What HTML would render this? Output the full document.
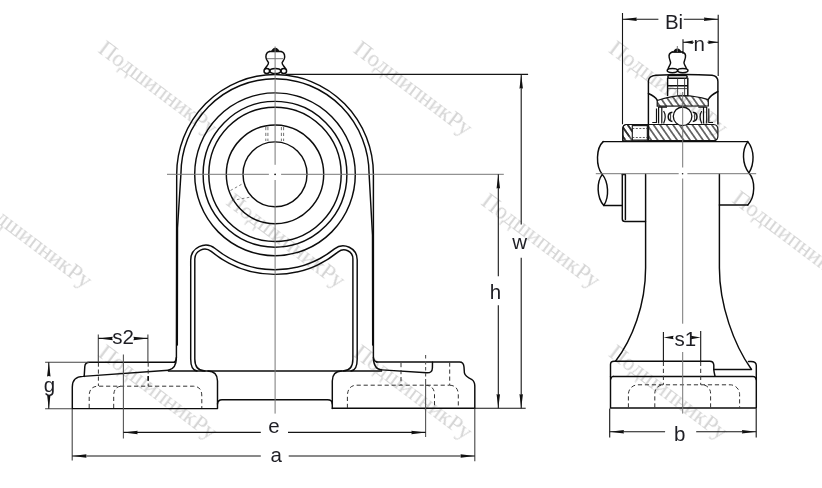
<!DOCTYPE html>
<html><head><meta charset="utf-8"><style>html,body{margin:0;padding:0;background:#fff;}svg{display:block;}</style></head>
<body><svg width="822" height="488" viewBox="0 0 822 488"><defs><pattern id="hat" patternUnits="userSpaceOnUse" width="5.3" height="5.3" patternTransform="rotate(-35)"><line x1="2.65" y1="0" x2="2.65" y2="5.3" stroke="#111" stroke-width="1.15"/></pattern></defs><rect width="822" height="488" fill="#fff"/>
<g font-family="Liberation Serif" font-size="23" fill="#b9b9b9" opacity="0.6"><text transform="translate(97.0,51.5) rotate(37)">ПодшипникРу</text><text transform="translate(352.2,51.6) rotate(37)">ПодшипникРу</text><text transform="translate(607.5,51.5) rotate(37)">ПодшипникРу</text><text transform="translate(-28.0,204.0) rotate(37)">ПодшипникРу</text><text transform="translate(225.0,204.0) rotate(37)">ПодшипникРу</text><text transform="translate(480.0,204.0) rotate(37)">ПодшипникРу</text><text transform="translate(731.0,201.5) rotate(37)">ПодшипникРу</text><text transform="translate(97.0,355.5) rotate(37)">ПодшипникРу</text><text transform="translate(352.2,355.5) rotate(37)">ПодшипникРу</text><text transform="translate(607.5,355.5) rotate(37)">ПодшипникРу</text></g>
<g fill="none" stroke="#0c0c0c" stroke-width="1.45" stroke-linecap="round" stroke-linejoin="round">
<ellipse cx="275" cy="174.3" rx="32.0" ry="32.45"/>
<ellipse cx="275" cy="174.3" rx="48.7" ry="49.38"/>
<ellipse cx="275" cy="174.3" rx="66.2" ry="67.13"/>
<ellipse cx="275" cy="174.3" rx="71.9" ry="72.91"/>
<ellipse cx="275" cy="174.3" rx="80.3" ry="81.42"/>
<path d="M168.4,370.2 C173.5,369.3 176.4,366 176.4,357 L176.7,174.3 A98.3,99.7 0 0 1 373.4,174.3 L373.4,357 C373.4,366 376.5,369.5 381.6,369.9"/>
<path d="M174.3,362.2 C175.6,361.6 176.3,360.3 176.4,357.5"/>
<path d="M376.9,362.0 C375.2,361.5 373.5,360.3 373.4,357.5"/>
<path d="M177.3,345 L177.5,228 L180.9,174.3 A94.1,95.5 0 0 1 369.1,174.3 L372.5,235 L372.7,345"/>
<path d="M197,371 C193,370.6 190.7,366 190.7,359 L190.7,260.24 A15,15 0 0 1 215.12,248.56 A95.4,95.4 0 0 0 334.47,248.89 A14,14 0 0 1 357.2,259.84 L357.2,359 C357.2,366 355,370.6 351,371"/>
<path d="M205,371 C198,370.8 194.8,366 194.8,359 L194.8,259.12 A10,10 0 0 1 211.18,251.41 A100.1,100.1 0 0 0 338.22,251.91 A9,9 0 0 1 352.9,258.89 L352.9,359 C352.9,366 350,370.8 343,371"/>
<path d="M168.4,371 L381.6,371"/>
<path d="M72.3,408.6 L72.3,387 C72.3,380 76,376.6 83,376.4 L168.4,370.2"/>
<path d="M84.2,376.4 L84.8,366.5 C85,363.5 86.5,362.2 89.5,362.2 L174.4,362.2"/>
<path d="M72.3,408.6 L217.5,408.6 L217.5,381 C217.5,375 214,371.2 208,371"/>
<path d="M217.5,404 C217.7,401 219,399.8 222,399.8 L327.5,399.8 C330.5,399.8 332.3,401 332.3,404"/>
<path d="M332.3,408.4 L332.3,381 C332.3,375 335.5,371.2 341.5,371"/>
<path d="M332.3,408.2 L474.8,408.2 L474.8,386 C474.8,382.5 474,381 471.8,379.5 C468,377.5 465,376 464.4,372.8 L464,367 C463.8,364 462.5,362 459.5,362 L376.7,362"/>
<path d="M381.6,369.9 L426.7,372.8 C430.5,373 432.3,371.5 432.4,368 L432.5,362.2"/>
</g>
<path d="M265.8,127 V141 M267.9,127 V141 M281.4,127 V141 M283.6,127 V141" fill="none" stroke="#444" stroke-width="0.75" stroke-dasharray="3.2 2.6"/>
<path d="M230.5,190.5 L243,183.5 M232,200.5 L251,197" fill="none" stroke="#555" stroke-width="0.75" stroke-dasharray="2.6 2.4"/>
<g fill="none" stroke="#333" stroke-width="1.0" stroke-dasharray="4.2 2.8">
<path d="M89.2,408 V396 Q89.2,386.2 98.4,386.2 H193 Q201.8,386.2 201.8,396 V408"/>
<path d="M113.7,408 V396 Q113.7,386.2 122,386.2"/>
<path d="M98.4,362.5 V386"/><path d="M148.2,362.5 V386"/>
<path d="M347.4,408 V396 Q347.6,385.2 357,385.2 H449.7"/>
<path d="M425.6,385.2 Q434.5,385.6 434.5,395 V408"/><path d="M449.7,385.2 Q458.3,385.6 458.3,395 V408"/>
<path d="M401,363 V385"/><path d="M449.7,362.5 V385"/>
</g>
<g fill="none" stroke="#0c0c0c" stroke-width="1.45" stroke-linecap="round" stroke-linejoin="round" stroke-width="1.25">
<path d="M269.6,51.5 C267,52 265.9,54.5 265.9,57 C265.9,59.5 267.5,61 268.5,62.6 C268.9,64.5 266,66.5 265,68.8"/>
<path d="M281,51.5 C283.6,52 284.7,54.5 284.7,57 C284.7,59.5 283.1,61 282.1,62.6 C281.7,64.5 284.6,66.5 285.6,68.8"/>
<path d="M269.6,51.5 H281"/>
<ellipse cx="266.8" cy="71" rx="2.8" ry="2.5"/><ellipse cx="275.3" cy="71" rx="5.4" ry="2.5"/><ellipse cx="283.8" cy="71" rx="2.8" ry="2.5"/>
</g>
<path d="M270.8,51.9 C271.5,49.8 273.4,47.8 275.3,47.8 C277.2,47.8 279.1,49.8 279.8,51.9 Z" fill="#111"/>
<g fill="none" stroke="#777" stroke-width="1">
<path d="M275.1,46.5 V164.8 M275.1,180 V413.6"/>
<path d="M167,174.3 H268.9 M281.1,174.3 H503.8"/>
<path d="M267,58.7 H283"/>
</g>
<circle cx="275.1" cy="174.3" r="0.9" fill="#111"/>
<g fill="none" stroke="#151515" stroke-width="1.1">
<path d="M45.1,362.2 H89 M45.1,408.8 H72" stroke="#444"/>
<path d="M48.8,362.2 V375 M48.8,397 V408.8"/>
<path d="M98.3,334.6 V362 M147.9,334.4 V362" stroke="#444"/>
<path d="M148.2,376 V380.8" stroke-width="1.6"/>
<path d="M98.3,338.4 H111.5 M134.5,338.4 H147.9"/>
<path d="M123.4,354.6 V438.4 M425.6,380 V437" stroke="#555"/>
<path d="M425.6,355 V380" stroke="#555" stroke-dasharray="3.5 2.5"/>
<path d="M123.4,432.4 H260.8 M288,432.4 H425.6"/>
<path d="M72.2,409 V460.5 M474.8,408.5 V461.3" stroke="#444"/>
<path d="M72.2,456 H260.8 M288.7,456 H474.8"/>
<path d="M474.8,408.2 H525.7 M285.5,74.4 H528.1"/>
<path d="M498.3,174.3 V276.3 M498.3,305.3 V408.2"/>
<path d="M521.2,74.4 V224.6 M521.2,257.8 V408.2"/>
</g>
<g fill="none" stroke="#0c0c0c" stroke-width="1.45" stroke-linecap="round" stroke-linejoin="round">
<path d="M648.4,123.8 L648.4,81 C648.6,77.5 651.5,75.6 656,75.2 C675,74.2 695,74.2 712,75.2 C715.8,75.6 717.8,78 717.9,81.5 L717.9,124"/>
<path d="M648.4,93.5 C652,95 655.5,97 657.2,100.2"/>
<path d="M717.9,91.5 C714,93.5 710,96 708.3,99.5"/>
</g>
<path d="M657.2,100.5 C668,96.8 676,95.6 684,95.6 C693,95.8 701,97.5 708.3,99.6 L708.3,106 L657.2,106.2 Z" fill="url(#hat)" stroke="#141414" stroke-width="1.2"/>
<path d="M648.6,124.5 L713.5,124.5 C716.5,124.6 717.9,126.5 717.9,129.5 L717.9,136 C717.9,139 716.5,140.6 713.5,140.7 L648.6,140.7 Z" fill="url(#hat)" stroke="#141414" stroke-width="1.2"/>
<path d="M647.8,124.5 L626.5,124.5 C624,124.6 622.8,126.5 622.8,129 L622.8,141" fill="url(#hat)" stroke="#141414" stroke-width="1.2"/>
<path d="M626.5,124.5 L647.8,124.5 L647.8,140.8 L622.8,140.8 L622.8,129 C622.8,126.5 624,124.6 626.5,124.5 Z" fill="url(#hat)" stroke="#141414" stroke-width="1.2"/>
<rect x="632.3" y="125.6" width="15" height="14.5" fill="#fff" stroke="#141414" stroke-width="1.1"/>
<path d="M632.3,128.5 H647 M632.3,137.5 H647" stroke="#333" stroke-width="0.8" stroke-dasharray="2 1.5"/>
<circle cx="682.6" cy="116.3" r="9.3" fill="#fff" stroke="#111" stroke-width="1.3"/>
<g fill="none" stroke="#111" stroke-width="1.2">
<path d="M652.3,122.5 H656.5 V108.6 M658.6,107 V123.6 M661.8,107.5 V123.6 M663.6,111 C665.5,114 665.5,119 663.6,123.5 M658.6,107.2 H667"/>
<path d="M713,122.5 H708.8 V108.6 M706.7,107 V123.6 M703.5,107.5 V123.6 M701.7,111 C699.8,114 699.8,119 701.7,123.5 M706.7,107.2 H698.3"/>
</g>
<path d="M672.4,112.2 C669,112.6 668.2,115 668.2,116.8 C668.2,118.6 669,121 672.4,121.4" fill="none" stroke="#111" stroke-width="1.5"/>
<path d="M692.8,112.2 C696.2,112.6 697,115 697,116.8 C697,118.6 696.2,121 692.8,121.4" fill="none" stroke="#111" stroke-width="1.5"/>
<path d="M670.6,113.5 V120.2 M694.6,113.5 V120.2" stroke="#222" stroke-width="0.9"/>
<g fill="none" stroke="#0c0c0c" stroke-width="1.45" stroke-linecap="round" stroke-linejoin="round" stroke-width="1.25">
<path d="M672.3,52 C669.5,52.8 668.8,55.5 669.2,57.5 C669.6,60 670.8,61.5 670.6,63 C670.4,65 668.5,66.5 668.2,68.6"/>
<path d="M682.3,52 C685.1,52.8 685.8,55.5 685.4,57.5 C685,60 683.8,61.5 684,63 C684.2,65 686.1,66.5 686.4,68.6"/>
<path d="M672.3,52 H682.3"/>
<ellipse cx="672.4" cy="70.6" rx="5.2" ry="2.1"/><ellipse cx="682.8" cy="70.6" rx="5.2" ry="2.1"/>
<rect x="667.9" y="75.4" width="19.2" height="2.8" rx="1.2"/>
<path d="M667.6,78.2 V95.6 M687.8,78.2 V95.6 M667.6,85.8 H687.8"/>
</g>
<path d="M673,52.6 C673.3,50.4 675.2,48.6 677.3,48.6 C679.4,48.6 681.3,50.4 681.6,52.6 Z" fill="#111"/>
<path d="M667.6,88.6 H687.8 M677.6,78.2 V95.6 M684.6,78.2 V95.6" stroke="#333" stroke-width="0.9" fill="none"/>
<g fill="none" stroke="#0c0c0c" stroke-width="1.45" stroke-linecap="round" stroke-linejoin="round">
<path d="M603.2,141.6 H747.8"/>
<path d="M603.2,141.6 C596,148 595.5,166 602.3,174.4"/>
<path d="M602.3,174.4 C596.5,182 596.5,197 603.8,205.5 C609.5,197 608.5,182 602.3,174.4"/>
<path d="M747.8,141.6 C741.8,150 742,164 748.9,172.9 C754.6,164 754.6,150 747.8,141.6"/>
<path d="M748.9,172.9 C755.5,180 755.5,197 747.8,204.9"/>
<path d="M603.8,205.5 H622.3 M719.4,205 H747.8"/>
<path d="M622.3,174.4 V219 C622.3,220.8 623,221.5 625,221.5 H645.5"/>
<path d="M622.3,174.4 H625.4 V219.5"/>
<path d="M645.6,174.3 V268 C645.6,305 632,340 615.5,361.2"/>
<path d="M719.4,174.3 V268 C719.4,305 734,345 751.2,369"/>
<path d="M610.5,376.5 V407.9 H756.3 V365.5 C756.3,363 754,361.4 751,361.4 L748.5,361.4"/>
<path d="M610.5,376.5 V364.5 C610.5,362.5 611.8,361.3 614,361.3 H709.8 C712.2,361.3 713.6,363 713.8,365 L713.8,369.4 C713.9,372 714.5,374 715,376"/>
<path d="M613,376.4 H752.8 C755,376.6 756,377.8 756.3,379.5"/>
<path d="M610.8,379 C611,377.5 612,376.5 613.5,376.4"/>
<path d="M713.8,369.5 H751.5"/>
</g>
<g fill="none" stroke="#333" stroke-width="1.0" stroke-dasharray="4.2 2.8">
<path d="M628.4,407.5 V394.3 A9.5,9.5 0 0 1 637.9,384.8 H730.1 A9.5,9.5 0 0 1 739.6,394.3 V407.5"/>
<path d="M654.8,407.5 V393.3 A8.5,8.5 0 0 1 663.3,384.8"/>
<path d="M710.6,407.5 V393.3 A8.5,8.5 0 0 0 702.1,384.8"/>
<path d="M663.4,361.8 V384.8 M700.7,361.8 V384.8"/>
</g>
<g fill="none" stroke="#777" stroke-width="1">
<path d="M682.7,92 V167.5 M682.7,178.5 V323.7 M682.7,352 V413.6"/>
<circle cx="682.6" cy="173.8" r="0.8" fill="#222" stroke="none"/>
<path d="M595.8,173.7 H678.7 M687.4,173.7 H756.2"/>
<path d="M677.3,46 V52"/>
</g>
<g fill="none" stroke="#151515" stroke-width="1.1">
<path d="M622.5,13.1 V124.3 M718.2,14.8 V76"/>
<path d="M622.5,19.2 H658.4 M683.8,19.2 H718.2"/>
<path d="M683,39.3 V54 M683,42.3 H693.8 M707.5,42.3 H718.2"/>
<path d="M663.4,331.9 V361.8 M700.7,331 V361.8"/>
<path d="M609.7,408.4 V437.4 M756.2,408.4 V437.4"/>
<path d="M609.7,431.8 H665.1 M696.2,431.8 H756.2"/>
</g>
<g fill="#111" stroke="none"><path d="M48.8,362.2 L50.55,376.50 Q48.80,375.30 47.05,376.50 Z"/><path d="M48.8,408.8 L47.05,394.50 Q48.80,395.70 50.55,394.50 Z"/><path d="M98.5,338.4 L112.80,336.65 Q111.60,338.40 112.80,340.15 Z"/><path d="M147.7,338.4 L133.40,340.15 Q134.60,338.40 133.40,336.65 Z"/><path d="M123.4,432.4 L137.70,430.65 Q136.50,432.40 137.70,434.15 Z"/><path d="M425.6,432.4 L411.30,434.15 Q412.50,432.40 411.30,430.65 Z"/><path d="M72.2,456.0 L86.50,454.25 Q85.30,456.00 86.50,457.75 Z"/><path d="M474.8,456.0 L460.50,457.75 Q461.70,456.00 460.50,454.25 Z"/><path d="M498.3,174.3 L500.05,188.60 Q498.30,187.40 496.55,188.60 Z"/><path d="M498.3,408.2 L496.55,393.90 Q498.30,395.10 500.05,393.90 Z"/><path d="M521.2,74.4 L522.95,88.70 Q521.20,87.50 519.45,88.70 Z"/><path d="M521.2,408.2 L519.45,393.90 Q521.20,395.10 522.95,393.90 Z"/><path d="M622.5,19.2 L636.80,17.45 Q635.60,19.20 636.80,20.95 Z"/><path d="M718.2,19.2 L703.90,20.95 Q705.10,19.20 703.90,17.45 Z"/><path d="M683.0,42.3 L693.00,40.55 Q691.80,42.30 693.00,44.05 Z"/><path d="M718.2,42.3 L708.20,44.05 Q709.40,42.30 708.20,40.55 Z"/><path d="M663.6,337.4 L673.60,335.65 Q672.40,337.40 673.60,339.15 Z"/><path d="M700.7,337.4 L690.70,339.15 Q691.90,337.40 690.70,335.65 Z"/><path d="M609.7,431.8 L624.00,430.05 Q622.80,431.80 624.00,433.55 Z"/><path d="M756.2,431.8 L741.90,433.55 Q743.10,431.80 741.90,430.05 Z"/></g>
<g font-family="Liberation Sans" font-size="20.5" fill="#1e1e24"><text x="49.5" y="392" text-anchor="middle">g</text><text x="123.2" y="344" text-anchor="middle">s2</text><text x="274" y="432.5" text-anchor="middle">e</text><text x="276.3" y="461.8" text-anchor="middle">a</text><text x="495.4" y="299" text-anchor="middle">h</text><text x="519.7" y="249.2" text-anchor="middle">w</text><text x="674" y="28.7" text-anchor="middle">Bi</text><text x="699.3" y="50.8" text-anchor="middle">n</text><text x="685.4" y="345.8" text-anchor="middle">s1</text><text x="679.6" y="440.9" text-anchor="middle">b</text></g>
</svg></body></html>
